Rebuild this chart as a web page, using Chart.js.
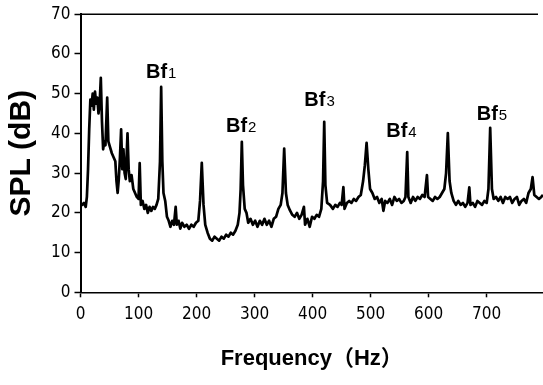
<!DOCTYPE html>
<html><head><meta charset="utf-8">
<script src="https://cdn.jsdelivr.net/npm/chart.js@4.4.0/dist/chart.umd.min.js"></script>
<style>html,body{margin:0;padding:0;background:#fff;overflow:hidden}#wrap{width:543px;height:385px}</style>
</head><body><div id="wrap"><canvas id="c" width="543" height="385"></canvas></div>
<script>
const freqHz = [
  0,3,6,9,11,13,15,17,19,21,
  23,25,27,29,31,33,35,37,39,41,
  43,46,48,51,54,57,60,62,64,66,
  68,70,72,74,76,78,81,83,85,88,
  91,94,97,100,102,104,107,110,113,116,
  119,122,125,128,131,134,137,139,141,143,
  146,149,152,155,158,161,164,166,169,172,
  175,179,183,187,191,195,199,203,206,209,
  212,215,219,223,227,231,235,239,243,247,
  251,255,259,263,267,271,274,276,278,280,
  283,286,289,293,297,301,305,309,313,317,
  321,325,329,333,337,341,345,348,351,354,
  357,361,365,369,373,377,381,385,387,391,
  395,399,403,407,411,415,418,420,422,425,
  430,435,439,443,447,450,453,455,459,463,
  467,471,475,479,483,487,490,493,496,499,
  503,507,511,515,519,522,525,529,533,537,
  541,545,549,553,557,560,563,565,569,573,
  577,581,585,589,593,597,599,603,607,611,
  615,619,623,627,630,633,636,639,643,647,
  651,655,659,663,667,670,672,676,680,684,
  688,692,696,700,703,706,709,712,716,720,
  724,728,732,736,740,744,748,752,756,760,
  764,768,772,776,779,782,786,790,794,797
];
const splDb = [
  22.5,22,22.5,21.5,24,31,41,48.5,47,50,
  46,50.5,47.5,49,45,47.5,54,43,36,38,
  37,49,38,36.5,35,34,33,28,25,28.5,
  34,41,31,36,30,28.5,40,31,28,29.5,
  26,25,24,23.5,32.5,22,23,21,22,20,
  21.5,20.5,21.5,21,22,23.5,33,51.7,33,25,
  23,19,18,16.5,18,17,21.5,17,18,16,
  17.5,16.5,17,16,17,16.5,17.5,18,23,32.6,
  22,17,15,13.5,13,14,13.5,13,14,13.5,
  14.5,14,15,14.5,15.5,17,20,26,37.9,27,
  21,20,17.5,18.5,17,18,16.5,18,17,18.5,
  17,18,16.5,18.5,19,21,22,25,36.2,25,
  22,20.6,19.5,19,20,18.5,19.5,21.5,17,18.5,
  16.5,19,18.5,19.5,19,21,28,42.9,27,22.5,
  22,21,22,21.5,22.5,22,26.5,21,22.5,23,
  22.5,23.5,23,24,24.5,28,32,37.6,31,26,
  25,23.5,24,22.5,23.5,20.5,23,22.5,23.5,22,
  24,23,23.5,22.5,23,24,35.3,24,22.5,24,
  23,24,23.5,24.5,24,29.5,24,23.5,23,24,
  23.5,24,25,26,30,40.1,28,25,23,22,
  23,22,22.5,21.5,22.5,26.4,22,22.5,21.5,23,
  22.5,22,23,22.5,26,41.4,26,23.5,24,23,
  24,22.5,24,23.5,24,22.5,23.5,24,22,23,
  23.5,22.5,25,26,29,24.5,24,23.5,24,24.5
];
const xTickValues = [0,100,200,300,400,500,600,700];
const yTickValues = [0,10,20,30,40,50,60,70];
const xTitle = 'Frequency（Hz）';
const yTitle = 'SPL (dB)';
const peakBase = ['Bf','Bf','Bf','Bf','Bf'];
const peakIndex = ['1','2','3','4','5'];
const peakLabelHz = [139,277,412,553,709];
const peakLabelDb = [54.0,40.4,47.0,39.1,43.3];

const SANS = "'Liberation Sans', Arial, sans-serif";
const NARROW = "'Liberation Sans Narrow', 'DejaVu Sans Condensed', sans-serif";
const TITLE_X = "'Liberation Sans', 'Noto Sans CJK JP', sans-serif";

const topBorder = {
  id: 'topBorder',
  afterDraw(chart) {
    const {ctx, chartArea} = chart;
    ctx.save();
    ctx.strokeStyle = '#000';
    ctx.lineWidth = 1.6;
    ctx.beginPath();
    ctx.moveTo(chartArea.left, chartArea.top);
    ctx.lineTo(chartArea.right - 5, chartArea.top);
    ctx.stroke();
    ctx.restore();
  }
};

const peakLabels = {
  id: 'peakLabels',
  afterDatasetsDraw(chart) {
    const {ctx, scales} = chart;
    ctx.save();
    ctx.fillStyle = '#000';
    ctx.textBaseline = 'alphabetic';
    ctx.textAlign = 'left';
    for (let i = 0; i < peakBase.length; i++) {
      const cx = scales.x.getPixelForValue(peakLabelHz[i]);
      const by = scales.y.getPixelForValue(peakLabelDb[i]);
      ctx.font = "bold 20px " + SANS;
      const w1 = ctx.measureText(peakBase[i]).width;
      ctx.font = "15px " + SANS;
      const w2 = ctx.measureText(peakIndex[i]).width;
      const x0 = cx - (w1 + w2 + 1) / 2;
      ctx.font = "bold 20px " + SANS;
      ctx.fillText(peakBase[i], x0, by);
      ctx.font = "15px " + SANS;
      ctx.fillText(peakIndex[i], x0 + w1 + 1, by);
    }
    ctx.restore();
  }
};

new Chart(document.getElementById('c'), {
  type: 'line',
  data: {
    datasets: [{
      data: freqHz.map((f, i) => ({x: f, y: splDb[i]})),
      borderColor: '#000',
      borderWidth: 2.7,
      pointRadius: 0,
      tension: 0,
      fill: false,
      borderJoinStyle: 'round'
    }]
  },
  options: {
    responsive: false,
    animation: false,
    devicePixelRatio: 1,
    layout: {padding: {top: 14, right: 0, bottom: 0, left: 0}},
    plugins: {legend: {display: false}, tooltip: {enabled: false}},
    scales: {
      x: {
        type: 'linear',
        min: 0,
        max: 797,
        afterBuildTicks: s => { s.ticks = xTickValues.map(v => ({value: v})); },
        afterFit: s => { s.height = 92.7; },
        border: {display: true, color: '#000', width: 1.6},
        grid: {drawOnChartArea: false, drawTicks: true, tickLength: 5, color: '#000', tickColor: '#000', tickWidth: 1.5},
        ticks: {color: '#000', font: {family: NARROW, size: 17}, padding: 7, maxRotation: 0, autoSkip: false},
        title: {display: true, text: xTitle, color: '#000', font: {family: TITLE_X, size: 22, weight: 'bold'}, padding: {top: 0, bottom: 13}}
      },
      y: {
        type: 'linear',
        min: 0,
        max: 70,
        afterBuildTicks: s => { s.ticks = yTickValues.map(v => ({value: v})); },
        afterFit: s => { s.width = 80.5; },
        border: {display: true, color: '#000', width: 2},
        grid: {drawOnChartArea: false, drawTicks: true, tickLength: 6, color: '#000', tickColor: '#000', tickWidth: 1.5},
        ticks: {color: '#000', font: {family: NARROW, size: 17}, padding: 4},
        title: {display: true, text: yTitle, color: '#000', font: {family: SANS, size: 30, weight: 'bold'}, padding: {top: 4, bottom: 0}}
      }
    }
  },
  plugins: [topBorder, peakLabels]
});
</script>
</body></html>
